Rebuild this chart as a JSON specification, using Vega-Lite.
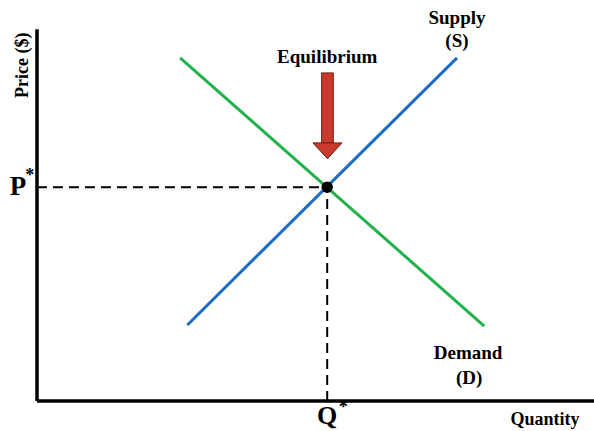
{
  "$schema": "https://vega.github.io/schema/vega-lite/v6.json",
  "width": 557,
  "height": 386,
  "padding": {"left": 37, "top": 15, "right": 0, "bottom": 30},
  "autosize": "none",
  "background": "white",
  "config": {"view": {"stroke": null}},
  "datasets": {
    "curves": [
      {"curve": "Supply", "q": 27.0, "p": 19.7},
      {"curve": "Supply", "q": 75.4, "p": 88.9},
      {"curve": "Demand", "q": 25.7, "p": 88.9},
      {"curve": "Demand", "q": 80.3, "p": 19.4}
    ],
    "eq": [{"q": 52.1, "p": 55.4}],
    "arrow": [{"q1": 51.1, "q2": 53.2, "p1": 66.6, "p2": 85.0, "q": 52.15, "ph": 64.8}],
    "labels": [
      {"t": "Equilibrium", "q": 52.1, "p": 89.1, "s": 19},
      {"t": "Supply", "q": 75.4, "p": 99.2, "s": 19},
      {"t": "(S)", "q": 75.4, "p": 93.3, "s": 19},
      {"t": "Demand", "q": 77.4, "p": 12.4, "s": 19},
      {"t": "(D)", "q": 77.6, "p": 6.0, "s": 19},
      {"t": "Quantity", "q": 91.2, "p": -4.9, "s": 18},
      {"t": "P", "q": -3.4, "p": 55.4, "s": 27},
      {"t": "*", "q": -1.3, "p": 58.3, "s": 18},
      {"t": "Q", "q": 52.1, "p": -3.9, "s": 26},
      {"t": "*", "q": 55.0, "p": -1.7, "s": 18}
    ]
  },
  "encoding": {
    "x": {"type": "quantitative", "scale": {"domain": [0, 100]}, "axis": null},
    "y": {"type": "quantitative", "scale": {"domain": [0, 100]}, "axis": null}
  },
  "layer": [
    {
      "data": {"values": [{"a": 0, "b": 52.1, "v": 55.4}]},
      "mark": {"type": "rule", "strokeDash": [10, 6], "strokeWidth": 2, "color": "black"},
      "encoding": {"x": {"field": "a", "type": "quantitative"}, "x2": {"field": "b"}, "y": {"field": "v", "type": "quantitative"}}
    },
    {
      "data": {"values": [{"a": 0, "b": 55.4, "v": 52.1}]},
      "mark": {"type": "rule", "strokeDash": [10, 6], "strokeWidth": 2, "color": "black"},
      "encoding": {"y": {"field": "a", "type": "quantitative"}, "y2": {"field": "b"}, "x": {"field": "v", "type": "quantitative"}}
    },
    {
      "data": {"name": "curves"},
      "mark": {"type": "line", "strokeWidth": 3},
      "encoding": {
        "x": {"field": "q", "type": "quantitative"},
        "y": {"field": "p", "type": "quantitative"},
        "color": {"field": "curve", "type": "nominal", "scale": {"domain": ["Supply", "Demand"], "range": ["#1b6cc8", "#21b14b"]}, "legend": null}
      }
    },
    {
      "data": {"name": "eq"},
      "mark": {"type": "point", "filled": true, "color": "black", "size": 130, "opacity": 1},
      "encoding": {"x": {"field": "q", "type": "quantitative"}, "y": {"field": "p", "type": "quantitative"}}
    },
    {
      "data": {"values": [{"a": 0, "b": 0, "c": 96.3}]},
      "mark": {"type": "rule", "strokeWidth": 3.5, "color": "black"},
      "encoding": {"x": {"field": "a", "type": "quantitative"}, "y": {"field": "b", "type": "quantitative"}, "y2": {"field": "c"}}
    },
    {
      "data": {"values": [{"a": 0, "b": 0, "c": 100}]},
      "mark": {"type": "rule", "strokeWidth": 3.5, "color": "black"},
      "encoding": {"y": {"field": "a", "type": "quantitative"}, "x": {"field": "b", "type": "quantitative"}, "x2": {"field": "c"}}
    },
    {
      "data": {"name": "arrow"},
      "mark": {"type": "rect", "color": "#c93a2c", "stroke": "#6e1d15", "strokeWidth": 1},
      "encoding": {"x": {"field": "q1", "type": "quantitative"}, "x2": {"field": "q2"}, "y": {"field": "p1", "type": "quantitative"}, "y2": {"field": "p2"}}
    },
    {
      "data": {"name": "arrow"},
      "mark": {"type": "point", "shape": "M-1,-0.55L1,-0.55L0,0.55Z", "filled": true, "color": "#c93a2c", "stroke": "#6e1d15", "strokeWidth": 1, "size": 841, "opacity": 1},
      "encoding": {"x": {"field": "q", "type": "quantitative"}, "y": {"field": "ph", "type": "quantitative"}}
    },
    {
      "data": {"name": "labels"},
      "mark": {"type": "text", "font": "Liberation Serif", "fontWeight": "bold", "color": "black", "align": "center", "baseline": "middle"},
      "encoding": {
        "x": {"field": "q", "type": "quantitative"},
        "y": {"field": "p", "type": "quantitative"},
        "text": {"field": "t"},
        "size": {"field": "s", "type": "quantitative", "scale": null}
      }
    },
    {
      "data": {"values": [{"t": "Price ($)", "q": -2.6, "p": 87}]},
      "mark": {"type": "text", "font": "Liberation Serif", "fontWeight": "bold", "fontSize": 18, "color": "black", "angle": 270, "align": "center", "baseline": "middle"},
      "encoding": {
        "x": {"field": "q", "type": "quantitative"},
        "y": {"field": "p", "type": "quantitative"},
        "text": {"field": "t"}
      }
    }
  ]
}
